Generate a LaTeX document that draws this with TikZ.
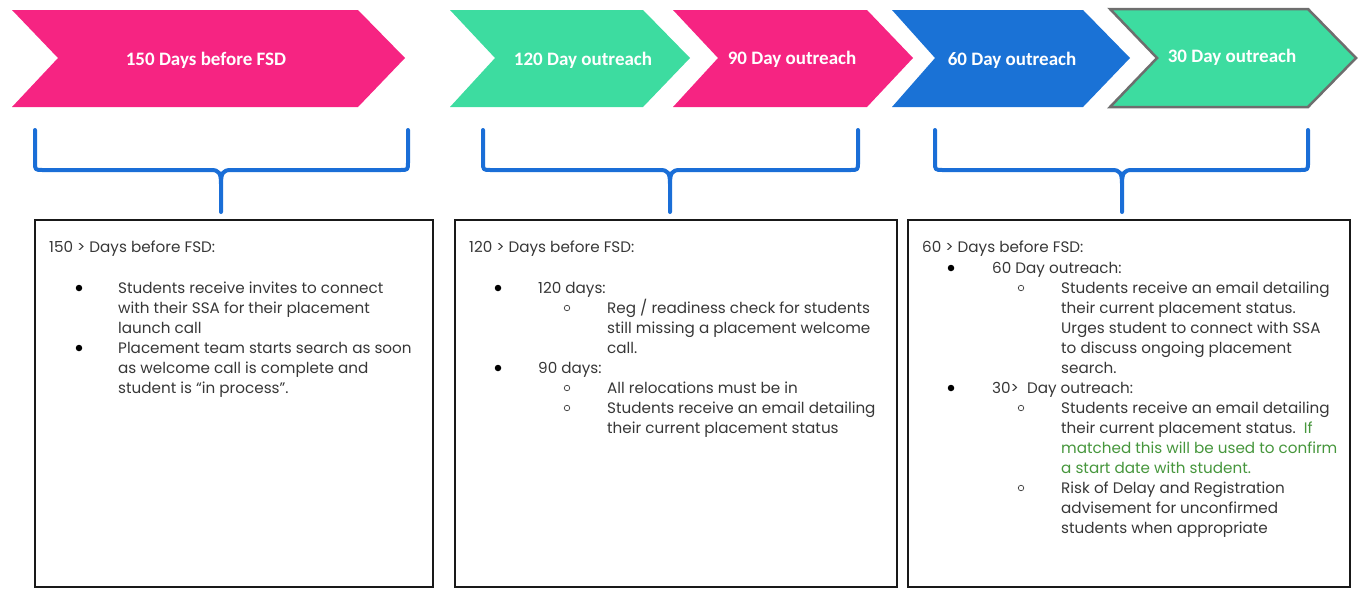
\documentclass[tikz,border=0pt]{standalone}
\usepackage{fontspec}
\newfontfamily\bodyfont{Poppins}
\newfontfamily\headfont{Carlito}
\definecolor{cpink}{RGB}{246,36,130}
\definecolor{cgreen}{RGB}{61,220,160}
\definecolor{cblue}{RGB}{26,114,214}
\definecolor{cgray}{RGB}{110,110,110}
\definecolor{ctext}{RGB}{55,55,55}
\definecolor{cgtext}{RGB}{70,150,60}
\definecolor{cbrace}{RGB}{26,110,215}
\tikzset{
  head/.style={text=white,font=\headfont\bfseries\fontsize{19}{21}\selectfont,inner sep=0},
  txt/.style={anchor=base west,inner sep=0,text=ctext,font=\bodyfont\fontsize{15.2}{17}\selectfont,yshift=-5pt},
  gtxt/.style={txt,text=cgtext},
  panel/.style={draw=black!90,line width=2.5pt},
  brc/.style={draw=cbrace,line width=4pt,line cap=round,line join=round},
  dotb/.style={circle,fill=black,inner sep=0,minimum size=6.5pt},
  dotc/.style={circle,draw=ctext,line width=0.7pt,inner sep=0,minimum size=5.5pt},
}
\newcommand{\Bracepath}[3]{% left x, mid x, right x
  (#1,130) -- (#1,162) .. controls (#1,170) .. ({#1+8},170) -- ({#2-10},170)
  .. controls ({#2-2},170) and (#2,173) .. (#2,184) -- (#2,212)
  (#3,130) -- (#3,162) .. controls (#3,170) .. ({#3-8},170) -- ({#2+10},170)
  .. controls ({#2+2},170) and (#2,173) .. (#2,184)}
\begin{document}
\begin{tikzpicture}[x=1pt,y=-1pt]
\useasboundingbox (0,0) rectangle (1364,592);
% chevrons
\fill[cpink] (12,10) -- (358,10) -- (405,58) -- (358,107) -- (12,107) -- (58,58) -- cycle;
\fill[cgreen] (450,10) -- (643,10) -- (690,58) -- (643,107) -- (450,107) -- (495,58) -- cycle;
\fill[cpink] (673,10) -- (867,10) -- (913,58) -- (867,107) -- (673,107) -- (718,58) -- cycle;
\fill[cblue] (892,10) -- (1083,10) -- (1130,58) -- (1083,107) -- (892,107) -- (935,58) -- cycle;
\filldraw[fill=cgreen,draw=cgray,line width=2.5pt,line join=miter] (1110,9) -- (1308,9) -- (1356,58) -- (1308,107) -- (1110,107) -- (1157,58) -- cycle;
\node[head] (c1) at (206,60) {150 Days before FSD};
\node[head] (c2) at (583,60) {120 Day outreach};
\node[head] (c3) at (792,59) {90 Day outreach};
\node[head] (c4) at (1012,60) {60 Day outreach};
\node[head] (c5) at (1232,57) {30 Day outreach};
% braces
\draw[brc] \Bracepath{35}{221}{408};
\draw[brc] \Bracepath{483}{670}{858};
\draw[brc] \Bracepath{935}{1122}{1308};
% panels
\draw[panel] (35,220) rectangle (433,587);
\draw[panel] (455,220) rectangle (897,587);
\draw[panel] (908,220) rectangle (1350,587);
% panel 1
\node[txt] (h1) at (49,247) {150 > Days before FSD:};
\node[dotb] (b11) at (79,288) {};
\node[txt] (t11) at (118,288) {Students receive invites to connect};
\node[txt] (t12) at (118,308) {with their SSA for their placement};
\node[txt] (t13) at (118,328) {launch call};
\node[dotb] (b12) at (79,348) {};
\node[txt] (t14) at (118,348) {Placement team starts search as soon};
\node[txt] (t15) at (118,368) {as welcome call is complete and};
\node[txt] (t16) at (118,388) {student is “in process”.};
% panel 2
\node[txt] (h2) at (469,247) {120 > Days before FSD:};
\node[dotb] (b21) at (498,288) {};
\node[txt] (t21) at (538,288) {120 days:};
\node[dotc] (s21) at (567,308) {};
\node[txt] (t22) at (607,308) {Reg / readiness check for students};
\node[txt] (t23) at (607,328) {still missing a placement welcome};
\node[txt] (t24) at (607,348) {call.};
\node[dotb] (b22) at (498,368) {};
\node[txt] (t25) at (538,368) {90 days:};
\node[dotc] (s22) at (567,388) {};
\node[txt] (t26) at (607,388) {All relocations must be in};
\node[dotc] (s23) at (567,408) {};
\node[txt] (t27) at (607,408) {Students receive an email detailing};
\node[txt] (t28) at (607,428) {their current placement status};
% panel 3
\node[txt] (h3) at (922,247) {60 > Days before FSD:};
\node[dotb] (b31) at (951,268) {};
\node[txt] (t31) at (992,268) {60 Day outreach:};
\node[dotc] (s31) at (1021,288) {};
\node[txt] (t32) at (1061,288) {Students receive an email detailing};
\node[txt] (t33) at (1061,308) {their current placement status.};
\node[txt] (t34) at (1061,328) {Urges student to connect with SSA};
\node[txt] (t35) at (1061,348) {to discuss ongoing placement};
\node[txt] (t36) at (1061,368) {search.};
\node[dotb] (b32) at (951,388) {};
\node[txt] (t37) at (992,388) {30>\ \ Day outreach:};
\node[dotc] (s32) at (1021,408) {};
\node[txt] (t38) at (1061,408) {Students receive an email detailing};
\node[txt] (t39) at (1061,428) {their current placement status.\ \ \textcolor{cgtext}{If}};
\node[gtxt] (t3a) at (1061,448) {matched this will be used to confirm};
\node[gtxt] (t3b) at (1061,468) {a start date with student.};
\node[dotc] (s33) at (1021,488) {};
\node[txt] (t3c) at (1061,488) {Risk of Delay and Registration};
\node[txt] (t3d) at (1061,508) {advisement for unconfirmed};
\node[txt] (t3e) at (1061,528) {students when appropriate};
\end{tikzpicture}
\end{document}
